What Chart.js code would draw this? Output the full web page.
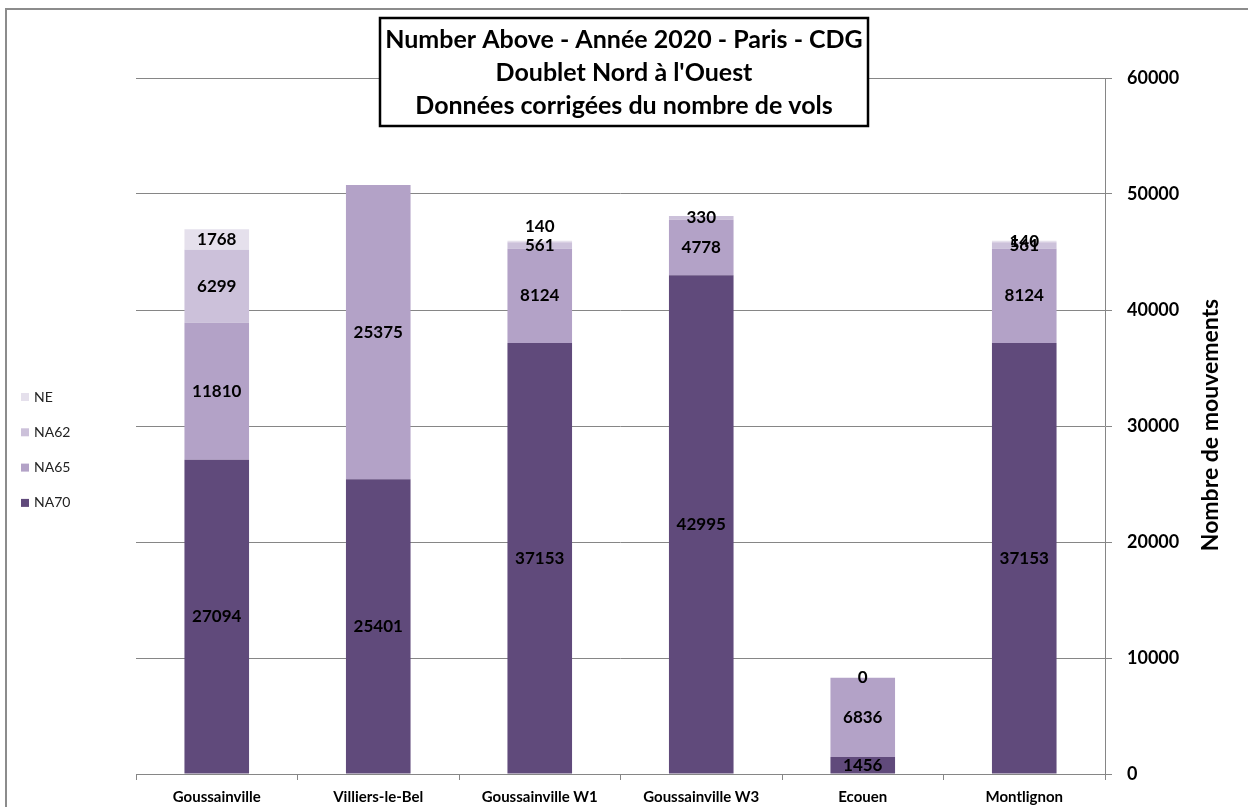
<!DOCTYPE html>
<html>
<head>
<meta charset="utf-8">
<script src="https://cdn.jsdelivr.net/npm/chart.js@4/dist/chart.umd.min.js"></script>
<style>
  html, body { margin: 0; padding: 0; background: #fff; }
  canvas { display: block; }
</style>
</head>
<body>
<canvas id="chart" width="1248" height="807"></canvas>
<script>
const categories = ['Goussainville', 'Villiers-le-Bel', 'Goussainville W1', 'Goussainville W3', 'Ecouen', 'Montlignon']
const na70 = [27094, 25401, 37153, 42995, 1456, 37153]
const na65 = [11810, 25375, 8124, 4778, 6836, 8124]
const na62 = [6299, null, 561, 330, 0, 561]
const ne = [1768, null, 140, null, null, 140]
const yTicks = [0, 10000, 20000, 30000, 40000, 50000, 60000]

const titleLines = [
  'Number Above - Année 2020 - Paris - CDG',
  'Doublet Nord à l\'Ouest',
  'Données corrigées du nombre de vols'
]
const axisTitle = 'Nombre de mouvements'
const gridColor = '#868686'

// Excel put the NE label of Goussainville W1 above the bar
const labelNudge = { '3-2': -15 }

const frame = {
  id: 'frame',
  beforeDraw(chart) {
    const ctx = chart.ctx
    ctx.save()
    ctx.fillStyle = '#fff'
    ctx.fillRect(0, 0, chart.width, chart.height)
    ctx.strokeStyle = '#8c8c8c'
    ctx.lineWidth = 2
    ctx.beginPath()
    ctx.moveTo(6, chart.height)
    ctx.lineTo(6, 9)
    ctx.lineTo(chart.width, 9)
    ctx.stroke()
    ctx.restore()
  }
}

const barLabels = {
  id: 'barLabels',
  afterDatasetsDraw(chart) {
    const ctx = chart.ctx
    ctx.save()
    ctx.font = 'bold 17px Lato'
    ctx.fillStyle = '#000'
    ctx.textAlign = 'center'
    ctx.textBaseline = 'middle'
    chart.data.datasets.forEach((ds, i) => {
      const meta = chart.getDatasetMeta(i)
      meta.data.forEach((bar, j) => {
        const v = ds.data[j]
        if (v === null) return
        const y = (bar.y + bar.base) / 2 + (labelNudge[i + '-' + j] || 0)
        ctx.fillText(String(v), bar.x, y)
      })
    })
    ctx.restore()
  }
}

const extras = {
  id: 'extras',
  afterDraw(chart) {
    const ctx = chart.ctx
    ctx.save()
    // title box
    ctx.fillStyle = '#fff'
    ctx.fillRect(380, 18, 488, 108)
    ctx.strokeStyle = '#000'
    ctx.lineWidth = 2.5
    ctx.strokeRect(380, 18, 488, 108)
    ctx.fillStyle = '#000'
    ctx.font = 'bold 25px Lato'
    ctx.textAlign = 'center'
    ctx.textBaseline = 'middle'
    titleLines.forEach((t, k) => ctx.fillText(t, 624, 40 + k * 33))

    // axis title, rotated
    ctx.save()
    ctx.translate(1211, 425)
    ctx.rotate(-Math.PI / 2)
    ctx.font = 'bold 23px Lato'
    ctx.fillText(axisTitle, 0, 0)
    ctx.restore()

    // legend
    ctx.font = '14px Lato'
    ctx.textAlign = 'left'
    const items = chart.data.datasets.slice().reverse()
    items.forEach((ds, k) => {
      const y = 397 + k * 35.3
      ctx.fillStyle = ds.backgroundColor
      ctx.fillRect(21, y - 4, 8, 8)
      ctx.fillStyle = '#222'
      ctx.fillText(ds.label, 34, y)
    })
    ctx.restore()
  }
}

new Chart(document.getElementById('chart'), {
  type: 'bar',
  data: {
    labels: categories,
    datasets: [
      { label: 'NA70', data: na70, backgroundColor: '#604A7B' },
      { label: 'NA65', data: na65, backgroundColor: '#B3A2C7' },
      { label: 'NA62', data: na62, backgroundColor: '#CCC1DA' },
      { label: 'NE', data: ne, backgroundColor: '#E5E0EC' }
    ]
  },
  options: {
    responsive: false,
    devicePixelRatio: 1,
    animation: false,
    layout: { padding: { left: 136, top: 78, right: 0, bottom: 0 } },
    datasets: { bar: { categoryPercentage: 1, barPercentage: 0.4 } },
    plugins: {
      legend: { display: false },
      tooltip: { enabled: false }
    },
    scales: {
      x: {
        stacked: true,
        afterFit(scale) { scale.height = 33 },
        grid: { offset: true, drawOnChartArea: false, tickLength: 6, color: gridColor },
        border: { color: gridColor },
        ticks: { color: '#000', padding: 8, font: { family: 'Lato', weight: 'bold', size: 15 } }
      },
      y: {
        stacked: true,
        position: 'right',
        min: 0,
        max: 60000,
        afterFit(scale) { scale.width = 143 },
        afterBuildTicks(scale) { scale.ticks = yTicks.map(v => ({ value: v })) },
        grid: { color: gridColor, tickLength: 7 },
        border: { color: gridColor },
        ticks: {
          color: '#000',
          padding: 15,
          font: { family: 'Lato', weight: 'bold', size: 18 },
          callback: v => String(v)
        }
      }
    }
  },
  plugins: [frame, barLabels, extras]
})
</script>
</body>
</html>
